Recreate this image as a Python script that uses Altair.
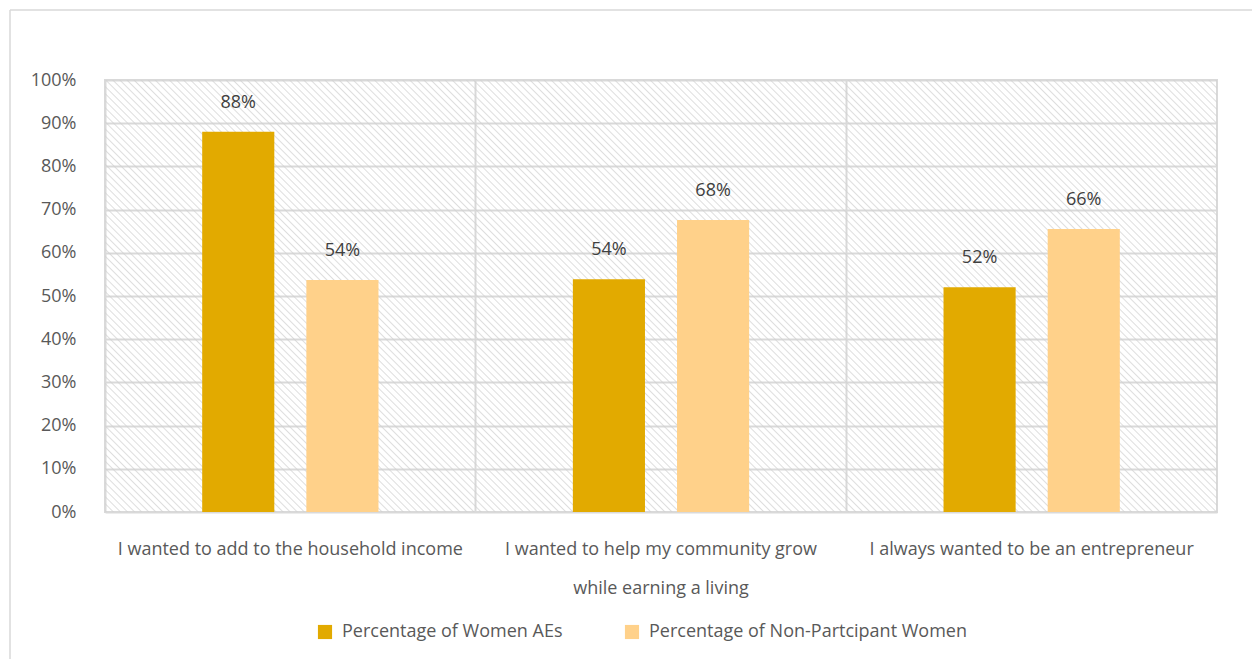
import altair as alt
import pandas as pd
from urllib.parse import quote

categories = [
    "I wanted to add to the household income",
    "I wanted to help my community grow\nwhile earning a living",
    "I always wanted to be an entrepreneur",
]
series = ["Percentage  of Women AEs", "Percentage of Non-Partcipant Women"]
women_aes = [0.88, 0.539, 0.52]
non_participant = [0.537, 0.676, 0.655]
colors = ["#E2AA00", "#FFD18A"]
y_ticks = [i / 10 for i in range(11)]

rows = []
for c, a, b in zip(categories, women_aes, non_participant):
    rows.append({"category": c, "series": series[0], "value": a})
    rows.append({"category": c, "series": series[1], "value": b})
df = pd.DataFrame(rows)

W, H = 1112, 432
FONT = "Open Sans"
TXT = "#595959"
FS = 18

hatch_svg = (
    "<svg xmlns='http://www.w3.org/2000/svg' width='%d' height='%d'>"
    "<defs><pattern id='p' width='5' height='5' patternUnits='userSpaceOnUse' "
    "patternTransform='rotate(-45)'>"
    "<line x1='0' y1='0' x2='0' y2='5' stroke='#d0d0d0' stroke-width='1.4'/>"
    "</pattern></defs><rect width='100%%' height='100%%' fill='url(#p)'/></svg>"
) % (W, H)
hatch_url = "data:image/svg+xml;charset=utf-8," + quote(hatch_svg)

deco = alt.Data(values=[{"k": 1}])

hatch = alt.Chart(deco).mark_image(
    url=hatch_url, align="left", baseline="top", aspect=False, width=W, height=H
).encode(
    x=alt.value(0), y=alt.value(0)
)

left_border = alt.Chart(deco).mark_rule(color="#d9d9d9", strokeWidth=1.5).encode(
    x=alt.value(-95), y=alt.value(-70), y2=alt.value(580)
)
top_border = alt.Chart(deco).mark_rule(color="#d9d9d9", strokeWidth=1.5).encode(
    x=alt.value(-95), x2=alt.value(1147), y=alt.value(-70)
)

x_enc = alt.X(
    "category:N",
    sort=categories,
    scale=alt.Scale(paddingInner=0, paddingOuter=0),
    axis=alt.Axis(
        title=None,
        labelAngle=0,
        labelExpr="split(datum.label, '\\n')",
        labelLineHeight=39,
        labelBaseline="top",
        labelPadding=28,
        labelFontSize=FS,
        labelColor=TXT,
        labelFont=FONT,
        labelLimit=0,
        ticks=False,
        domain=False,
        grid=True,
        bandPosition=0,
        gridColor="#d9d9d9",
        gridWidth=2,
    ),
)
xoff = alt.XOffset(
    "series:N",
    sort=series,
    scale=alt.Scale(paddingInner=0.3077, paddingOuter=0.933),
)
y_enc = alt.Y(
    "value:Q",
    scale=alt.Scale(domain=[0, 1], nice=False),
    axis=alt.Axis(
        title=None,
        values=y_ticks,
        format=".0%",
        labelFontSize=FS,
        labelColor=TXT,
        labelFont=FONT,
        labelPadding=29,
        ticks=False,
        domain=False,
        gridColor="#d9d9d9",
        gridWidth=2,
    ),
)

base = alt.Chart(df).encode(x=x_enc, xOffset=xoff)

bars = base.mark_bar().encode(
    y=y_enc,
    color=alt.Color(
        "series:N",
        sort=series,
        scale=alt.Scale(domain=series, range=colors),
        legend=alt.Legend(
            title=None,
            orient="none",
            direction="horizontal",
            legendX=211,
            legendY=543,
            symbolType="square",
            symbolSize=200,
            symbolStrokeWidth=0,
            symbolOpacity=1,
            labelFontSize=FS,
            labelColor=TXT,
            labelFont=FONT,
            labelLimit=0,
            labelOffset=8,
            columnPadding=55,
        ),
    ),
)

labels = base.mark_text(
    dy=-29, fontSize=FS, color="#404040", font=FONT
).encode(
    y=alt.Y("value:Q"),
    text=alt.Text("value:Q", format=".0%"),
)

chart = alt.layer(top_border, left_border, hatch, bars, labels).properties(
    width=W,
    height=H,
    autosize=alt.AutoSizeParams(type="none"),
    padding={"left": 97, "top": 72, "right": 35, "bottom": 147},
    background="white",
).configure_view(
    stroke="#d9d9d9", strokeWidth=2
)

chart.save("out.html", embed_options={"renderer": "svg", "actions": False})
